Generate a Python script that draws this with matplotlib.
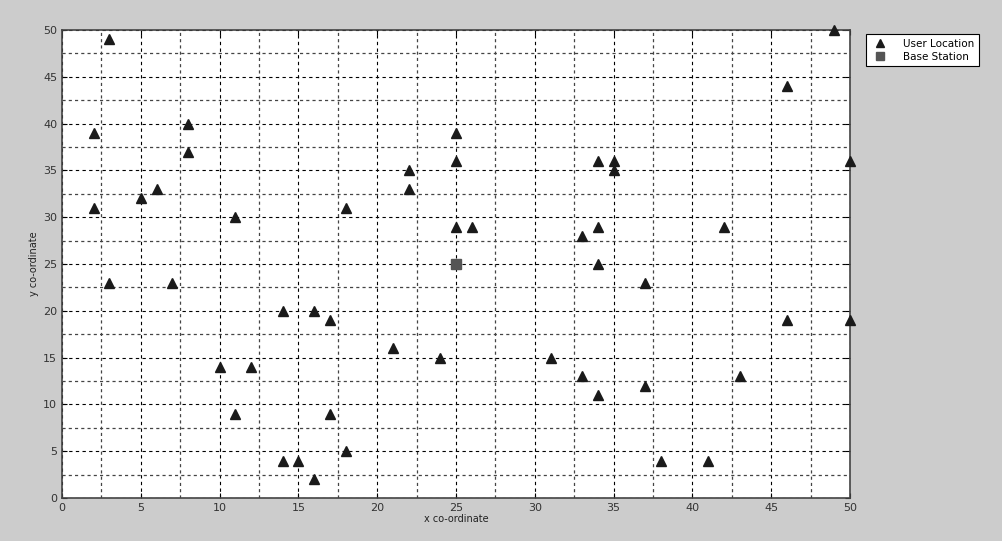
import numpy as np
import matplotlib
matplotlib.use("Agg")
import matplotlib.pyplot as plt
from matplotlib.ticker import MultipleLocator

# user locations
user_x = [3, 2, 2, 3, 5, 6, 8, 8, 7, 11, 10, 11, 12, 14, 14, 15, 16, 16, 17, 17,
          18, 18, 21, 22, 22, 24, 25, 25, 25, 26, 31, 33, 33, 34, 34, 34, 34, 35, 35, 37,
          37, 38, 41, 42, 43, 46, 46, 49, 50, 50]
user_y = [49, 39, 31, 23, 32, 33, 40, 37, 23, 30, 14, 9, 14, 20, 4, 4, 20, 2, 19, 9,
          5, 31, 16, 35, 33, 15, 39, 36, 29, 29, 15, 28, 13, 36, 29, 25, 11, 36, 35, 23,
          12, 4, 4, 29, 13, 44, 19, 50, 36, 19]

# base station
bs_x = [25]
bs_y = [25]

fig = plt.figure(figsize=(10.03, 5.41), dpi=100, facecolor='#cccccc')
ax = fig.add_axes([0.0618, 0.0795, 0.7857, 0.865])

ax.plot(user_x, user_y, '^', color='#1a1a1a', markersize=6.5, label='User Location', clip_on=False, zorder=3)
ax.plot(bs_x, bs_y, 's', color='#555555', markersize=6.5, label='Base Station', clip_on=False, zorder=3)

ax.set_xlim(0, 50)
ax.set_ylim(0, 50)
ax.xaxis.set_major_locator(MultipleLocator(5))
ax.yaxis.set_major_locator(MultipleLocator(5))
ax.xaxis.set_minor_locator(MultipleLocator(2.5))
ax.yaxis.set_minor_locator(MultipleLocator(2.5))

# grid lines like the old matlab look
ax.grid(True, which='major', color='black', linestyle=(0, (3, 3)), linewidth=0.8)
ax.grid(True, which='minor', color='#444444', linestyle=(0, (2.5, 2.5)), linewidth=0.9)
ax.set_axisbelow(True)

ax.tick_params(which='both', direction='in', labelsize=8, labelcolor='#333333', top=True, right=True)
ax.tick_params(which='minor', length=0)
for s in ax.spines.values():
    s.set_color('#444444')
    s.set_linewidth(1.2)

ax.set_xlabel('x co-ordinate', fontsize=7, labelpad=1, color='#222222')
ax.set_ylabel('y co-ordinate', fontsize=7, labelpad=3, color='#222222')

leg = fig.legend(loc='upper left', bbox_to_anchor=(0.858, 0.946), fontsize=7.5,
                 fancybox=False, edgecolor='black', framealpha=1, handletextpad=1.2,
                 borderpad=0.4, labelspacing=0.3, markerscale=0.9)
leg.get_frame().set_linewidth(0.8)

plt.savefig('out.png', dpi=100, facecolor=fig.get_facecolor())
